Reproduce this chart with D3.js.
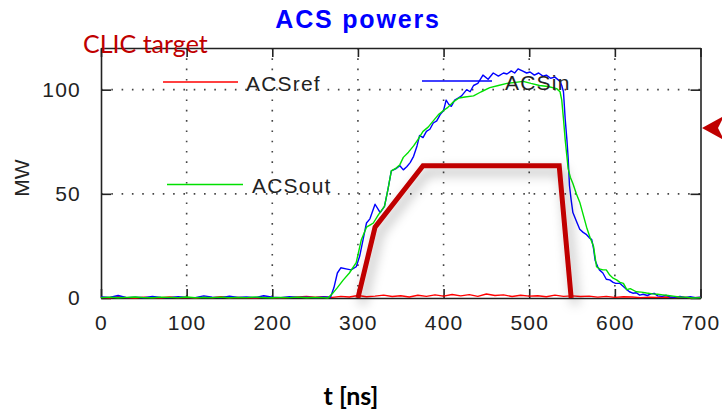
<!DOCTYPE html>
<html><head><meta charset="utf-8">
<script src="https://cdn.jsdelivr.net/npm/d3@7"></script>
<style>body{margin:0;background:#fff} svg{display:block}</style>
</head><body><svg id="chart" width="722" height="415"></svg>
<script>
// ---- data -------------------------------------------------------------
// Reflected power, sampled every 10 ns
const refT = d3.range(0, 701, 10);
const refV = [0.3,0.1,0.6,0.2,0,0.4,0.2,0.1,0.5,0.2,0.3,0,0.4,0.2,0.6,0.1,0.3,0.2,0,0.4,0.2,0.1,0.3,0.5,0.7,0.4,
  0.6,0.3,0.8,0.5,1.2,0.6,0.9,1.4,0.7,1.1,0.5,1.3,0.8,1.5,0.9,1.7,1.0,1.6,0.8,1.9,1.2,1.5,0.7,1.3,0.9,1.1,0.6,1.4,0.8,1.0,
  0.7,0.9,0.4,0.8,0.3,0.6,0.5,0.2,0.4,0.3,0.5,0.2,0.4,0.1,0.3];

// Input power
const inT = [0,10,20,30,40,50,60,70,80,90,100,110,120,130,140,150,160,170,180,190,200,210,220,230,240,250,260,268,
  272,276,280,286,292,298,302,306,310,314,320,326,331,335,339,344,349,353,357,361,365,369,372,376,380,384,388,392,396,
  400,403,406,409,413,417,421,427,431,435,440,446,452,458,464,470,474,479,483,487,492,497,501,506,511,516,520,525,530,
  536,538,540,542,544,545.5,547,549,551,555,559,563,567,570,573,575,577,580,582,586,590,594,598,601,606,610,614,617,
  621,625,629,633,638,642,646,650,655,660,664,670,676,682,688,694,700];
const inV = [0.5,0.3,1.2,0.2,0.4,0.1,0.8,0.3,0.2,0.6,0.3,0.2,1.0,0.4,0.2,0.9,0.3,0.5,0.2,1.1,0.4,0.2,0.6,0.3,0.4,0.2,0.5,0.4,
  5,12,14.5,14,13.5,15,20,28,36,38,45,41,44,52,61,62,63.5,61.5,63,65,68,73,78,77,80,81,84,85,88,
  90,95,93,92,95,96,97,100,99,102,103,107,105,108,106.5,108,107.5,109,108,110,109,108,108.5,107,108,106.5,107,105.5,106,
  104,102,99,86,76,67,54,47,41,37,33,31.5,30.4,29,28,24,18,15,13.5,12,9,8.7,7.5,7,7,5.5,4,3,
  2.3,2.5,1.4,1.8,1.2,2.0,2.2,1.0,0.8,1.3,0.5,0.3,0.8,0.2,0.6,0.1,0.4];

// Output power
const outT = [0,10,20,30,40,50,60,70,80,90,100,110,120,130,140,150,160,170,180,190,200,210,220,230,240,250,260,265,
  270,276,283,290,298,304,310,314,318,324,331,335,339,345,349,353,359,365,370,376,382,388,394,400,405,411,418,425,435,
  444,454,464,474,484,493,502,512,522,532,536,538,540,542,545.5,548,551,555,559,563,567,571,575,578.6,582,586,590,594,
  598,602,606,610,614,618,625,631,637,644,650,656,662,668,675,682,691,700];
const outV = [0.2,0.4,0.1,0.3,0.5,0.2,0.1,0.4,0.3,0.2,0.5,0.1,0.3,0.2,0.4,0.1,0.3,0.2,0.5,0.2,0.1,0.3,0.2,0.4,0.1,0.3,0.2,0,
  2,5,8.7,12,17,28,34,35,36,40,44,52,61,62.5,64,67.5,70,73,76,80,82,85,88,90,91.5,94,96,96.5,97,
  99,101,102,103,103.5,104,103,102,101.5,100.5,99,95,86,76,62,58,55,50,46,40,34,29,25,15,14,13.5,13.5,11,
  9.5,8.7,7.5,7,4,4.5,3,2.8,2.4,2.0,1.8,1.5,1.2,0.9,0.5,0.4,0,0.2];

// CLIC target pulse shape
const targetT = [300, 320, 376, 535, 549];
const targetV = [0, 34, 63.5, 63.5, 0];

const xTicks = [0, 100, 200, 300, 400, 500, 600, 700];
const yTicks = [0, 50, 100];

// ---- layout -----------------------------------------------------------
const svg = d3.select("#chart");
const x = d3.scaleLinear().domain([0, 700]).range([101, 700.5]);
const y = d3.scaleLinear().domain([0, 120]).range([298, 48]);
const X0 = x.range()[0], X1 = x.range()[1], Y0 = y.range()[0], Y1 = y.range()[1];

const defs = svg.append("defs");
const shadow = defs.append("filter").attr("id", "soft").attr("x", "-30%").attr("y", "-30%").attr("width", "160%").attr("height", "160%");
shadow.append("feDropShadow").attr("dx", 4).attr("dy", 6).attr("stdDeviation", 6)
  .attr("flood-color", "#000").attr("flood-opacity", 0.35);

const tickFont = "'Liberation Sans', Arial, sans-serif";

// grid
const grid = svg.append("g").attr("stroke", "#444").attr("stroke-width", 1.6)
  .attr("stroke-dasharray", "1.6,8.7").attr("stroke-linecap", "butt");
xTicks.filter(d => d > 0 && d < 700).forEach(d =>
  grid.append("line").attr("x1", x(d)).attr("x2", x(d)).attr("y1", Y1).attr("y2", Y0));
yTicks.filter(d => d > 0).forEach(d =>
  grid.append("line").attr("x1", X0).attr("x2", X1).attr("y1", y(d)).attr("y2", y(d)));

// axes with inward ticks
const axisStyle = g => {
  g.select(".domain").attr("stroke", "#222").attr("stroke-width", 1.6);
  g.selectAll(".tick line").attr("stroke", "#222").attr("stroke-width", 1.6);
  g.selectAll(".tick text").attr("fill", "#222").style("font-family", tickFont)
    .style("font-size", "21px").style("letter-spacing", "1.2px");
};
svg.append("g").attr("transform", `translate(0,${Y0})`)
  .call(d3.axisBottom(x).tickValues(xTicks).tickSizeInner(-9).tickSizeOuter(0).tickPadding(17).tickFormat(d3.format("d")))
  .call(axisStyle);
svg.append("g").attr("transform", `translate(0,${Y1})`)
  .call(d3.axisTop(x).tickValues(xTicks).tickSizeInner(-9).tickSizeOuter(0).tickFormat(""))
  .call(axisStyle);
svg.append("g").attr("transform", `translate(${X0},0)`)
  .call(d3.axisLeft(y).tickValues(yTicks).tickSizeInner(-10).tickSizeOuter(0).tickPadding(20).tickFormat(d3.format("d")))
  .call(axisStyle);
svg.append("g").attr("transform", `translate(${X1},0)`)
  .call(d3.axisRight(y).tickValues(yTicks).tickSizeInner(-10).tickSizeOuter(0).tickFormat(""))
  .call(axisStyle);

// data series
const line = d3.line().x(d => x(d[0])).y(d => y(d[1]));
const series = [
  { t: refT, v: refV, color: "#ff0000" },
  { t: inT, v: inV, color: "#0000ff" },
  { t: outT, v: outV, color: "#00e000" }
];
series.forEach(s => {
  svg.append("path").datum(d3.zip(s.t, s.v)).attr("d", line)
    .attr("fill", "none").attr("stroke", s.color).attr("stroke-width", 1.4).attr("stroke-linejoin", "round");
});

// legend entries
const legend = [
  { name: "ACSref", color: "#ff0000", x1: 163, x2: 238, yl: 82, tx: 246, ty: 91 },
  { name: "ACSin", color: "#0000ff", x1: 422, x2: 492, yl: 81, tx: 505, ty: 90 },
  { name: "ACSout", color: "#00e000", x1: 167, x2: 243, yl: 184.5, tx: 252, ty: 193 }
];
legend.forEach(l => {
  svg.append("line").attr("x1", l.x1).attr("x2", l.x2).attr("y1", l.yl).attr("y2", l.yl)
    .attr("stroke", l.color).attr("stroke-width", 1.4);
  svg.append("text").attr("x", l.tx).attr("y", l.ty).text(l.name)
    .attr("fill", "#222").style("font-family", tickFont).style("font-size", "21px").style("letter-spacing", "1.2px");
});

// CLIC target overlay
svg.append("path").datum(d3.zip(targetT, targetV)).attr("d", line)
  .attr("fill", "none").attr("stroke", "#c00000").attr("stroke-width", 5)
  .attr("stroke-linejoin", "miter").attr("filter", "url(#soft)");

// arrow pointing at the plot edge
svg.append("path").attr("d", "M702,128 L724,116 L718,128 L724,140 Z").attr("fill", "#c00000");

// titles
svg.append("text").attr("x", 358).attr("y", 28).attr("text-anchor", "middle").text("ACS powers")
  .attr("fill", "#0000ff").style("font-family", tickFont).style("font-weight", "bold")
  .style("font-size", "25px").style("letter-spacing", "1.8px");
svg.append("text").attr("x", 83).attr("y", 53).text("CLIC target")
  .attr("fill", "#c00000").style("font-family", "Lato, 'Open Sans', sans-serif").style("font-size", "25px");
svg.append("text").attr("transform", "translate(29,178) rotate(-90)").attr("text-anchor", "middle").text("MW")
  .attr("fill", "#222").style("font-family", tickFont).style("font-size", "21px");
svg.append("text").attr("x", 351).attr("y", 405).attr("text-anchor", "middle").text("t [ns]")
  .attr("fill", "#000").style("font-family", "Lato, 'Open Sans', sans-serif").style("font-weight", "bold").style("font-size", "25px");
</script></body></html>
